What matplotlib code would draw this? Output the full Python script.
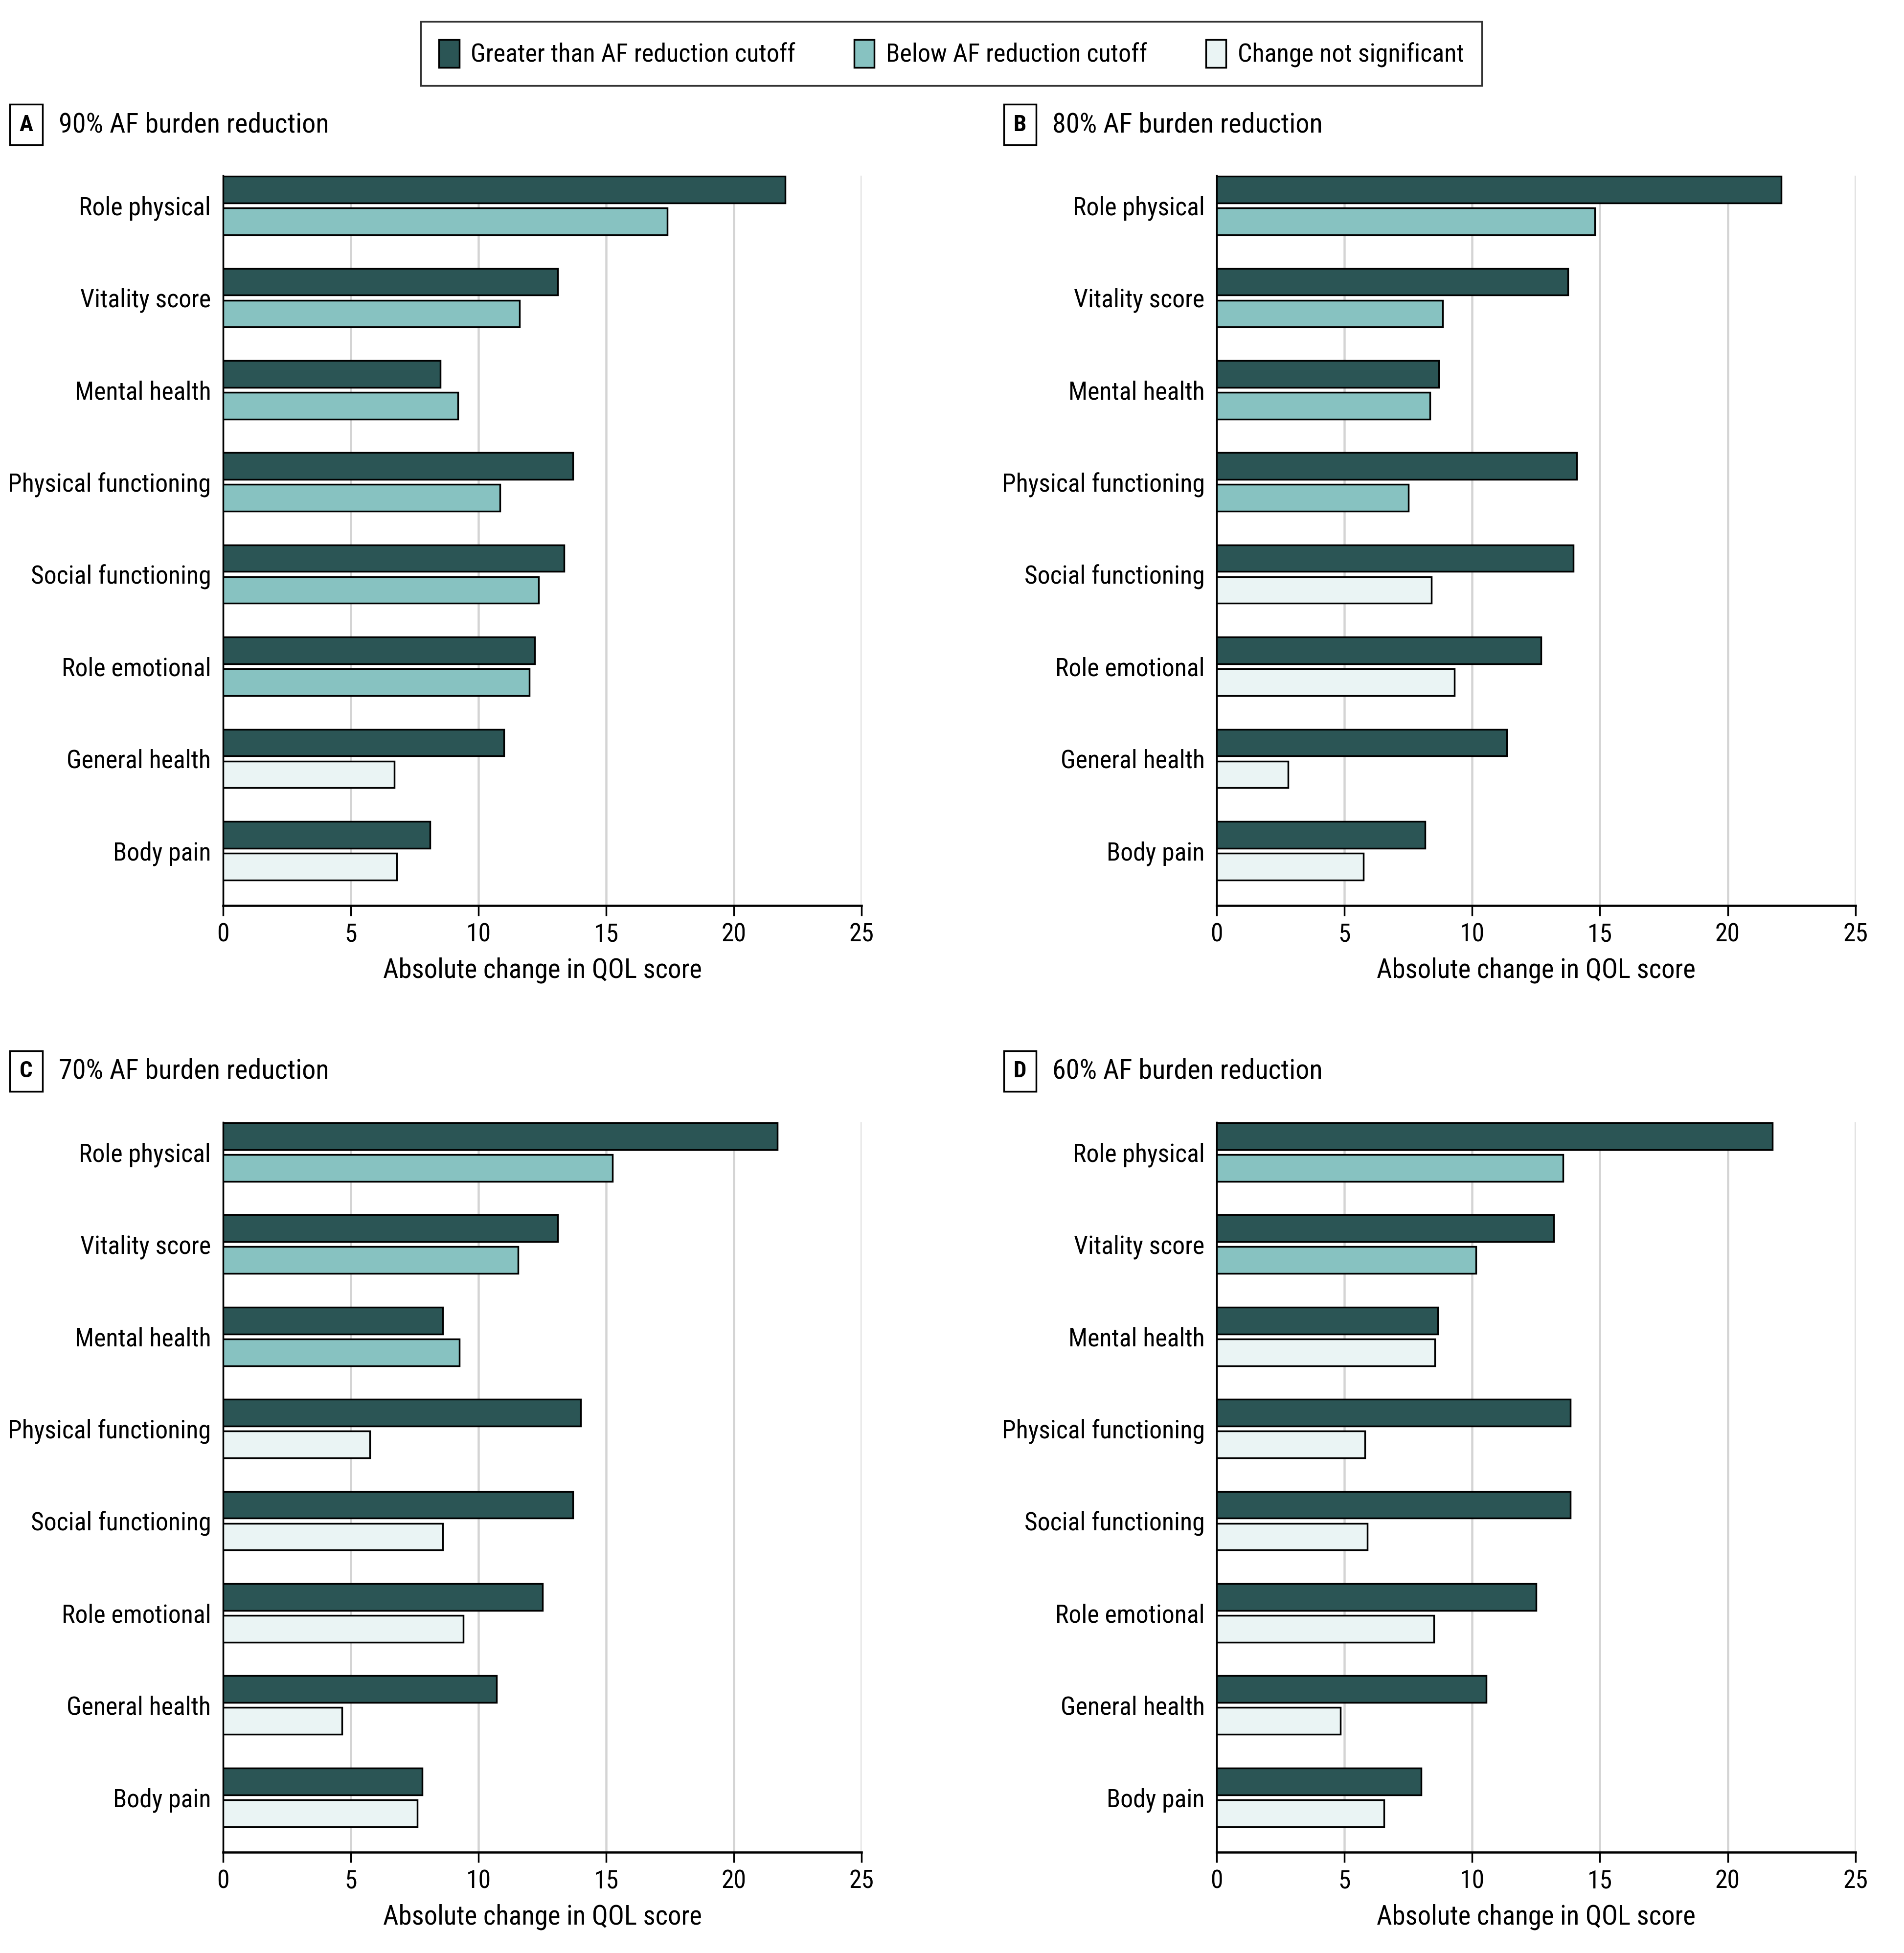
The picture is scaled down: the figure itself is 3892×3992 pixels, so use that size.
import numpy as np
import matplotlib
matplotlib.use('Agg')
import matplotlib.pyplot as plt
from matplotlib import font_manager
from matplotlib.patches import Patch

# narrow face wanted; fall back to Liberation Sans
names = set(f.name for f in font_manager.fontManager.ttflist)
family = 'Liberation Sans'
for cand in ['Liberation Sans Narrow', 'Roboto Condensed', 'Open Sans Condensed']:
    if cand in names:
        family = cand
        break
plt.rcParams['font.family'] = [family, 'DejaVu Sans']

categories = ['Role physical', 'Vitality score', 'Mental health', 'Physical functioning',
              'Social functioning', 'Role emotional', 'General health', 'Body pain']

panel_letters = ['A', 'B', 'C', 'D']
panel_titles = ['90% AF burden reduction', '80% AF burden reduction',
                '70% AF burden reduction', '60% AF burden reduction']

# greater than cutoff (dark bars)
greater = [
    [22.0, 13.1, 8.5, 13.7, 13.35, 12.2, 11.0, 8.1],
    [22.1, 13.75, 8.7, 14.1, 13.95, 12.7, 11.35, 8.15],
    [21.7, 13.1, 8.6, 14.0, 13.7, 12.5, 10.7, 7.8],
    [21.75, 13.2, 8.65, 13.85, 13.85, 12.5, 10.55, 8.0],
]
# second bar values
second = [
    [17.4, 11.6, 9.2, 10.85, 12.35, 12.0, 6.7, 6.8],
    [14.8, 8.85, 8.35, 7.5, 8.4, 9.3, 2.8, 5.75],
    [15.25, 11.55, 9.25, 5.75, 8.6, 9.4, 4.65, 7.6],
    [13.55, 10.15, 8.55, 5.8, 5.9, 8.5, 4.85, 6.55],
]
# 1 = below cutoff, 0 = change not significant
second_sig = [
    [1, 1, 1, 1, 1, 1, 0, 0],
    [1, 1, 1, 1, 0, 0, 0, 0],
    [1, 1, 1, 0, 0, 0, 0, 0],
    [1, 1, 0, 0, 0, 0, 0, 0],
]

legend_labels = ['Greater than AF reduction cutoff', 'Below AF reduction cutoff', 'Change not significant']
dark = '#2b5555'
teal = '#87c2c1'
pale = '#eaf4f4'

W, H = 1529.0, 1568.0
fig = plt.figure(figsize=(15.568, 15.968), dpi=250)

fs = 14.9
lefts = [179, 977, 179, 977]
tops = [141, 141, 901, 901]
ax_w = 513
ax_h = 586

y = np.arange(len(categories))
h = 0.29
off = 0.1725

for k in range(4):
    x0, y0 = lefts[k], tops[k]
    ax = fig.add_axes([x0 / W, 1 - (y0 + ax_h) / H, ax_w / W, ax_h / H])
    cols = [teal if s else pale for s in second_sig[k]]
    ax.barh(y - off, greater[k], height=h, color=dark, edgecolor='black', linewidth=1.0, zorder=3)
    ax.barh(y + off, second[k], height=h, color=cols, edgecolor='black', linewidth=1.0, zorder=3)
    ax.set_xlim(0, 25)
    ax.set_ylim(7.595, -0.324)
    ax.set_xticks([0, 5, 10, 15, 20, 25])
    ax.set_yticks(y)
    ax.set_yticklabels(categories, fontsize=fs)
    ax.tick_params(axis='y', length=0, pad=7)
    ax.tick_params(axis='x', length=6, width=1.0, labelsize=fs, pad=4, direction='out')
    ax.grid(axis='x', color='#d4d4d4', linewidth=1.3, zorder=0)
    ax.set_axisbelow(True)
    for s in ['top', 'right']:
        ax.spines[s].set_visible(False)
    ax.spines['left'].set_linewidth(1.0)
    ax.spines['bottom'].set_linewidth(1.3)
    ax.set_xlabel('Absolute change in QOL score', fontsize=15.8, labelpad=6)

    # panel letter box and title
    bx = (x0 - 158) / W
    by = 1 - (y0 - 41) / H
    fig.text(bx, by, panel_letters[k], fontsize=13.5, fontweight='bold', ha='center', va='center',
             bbox=dict(boxstyle='square,pad=0.42', facecolor='white', edgecolor='black', linewidth=1.0))
    fig.text((x0 - 132) / W, by, panel_titles[k], fontsize=16.2, ha='left', va='center')

handles = [Patch(facecolor=dark, edgecolor='black', linewidth=1.0),
           Patch(facecolor=teal, edgecolor='black', linewidth=1.0),
           Patch(facecolor=pale, edgecolor='black', linewidth=1.0)]
leg = fig.legend(handles, legend_labels, loc='center', bbox_to_anchor=(764 / W, 1 - 43 / H),
                 ncol=3, fontsize=15.0, frameon=True, fancybox=False, edgecolor='black',
                 handlelength=0.8, handleheight=1.3, handletextpad=0.45, columnspacing=2.3,
                 borderpad=0.7)
leg.get_frame().set_linewidth(1.0)

fig.savefig('out.png', dpi=250, facecolor='white')
